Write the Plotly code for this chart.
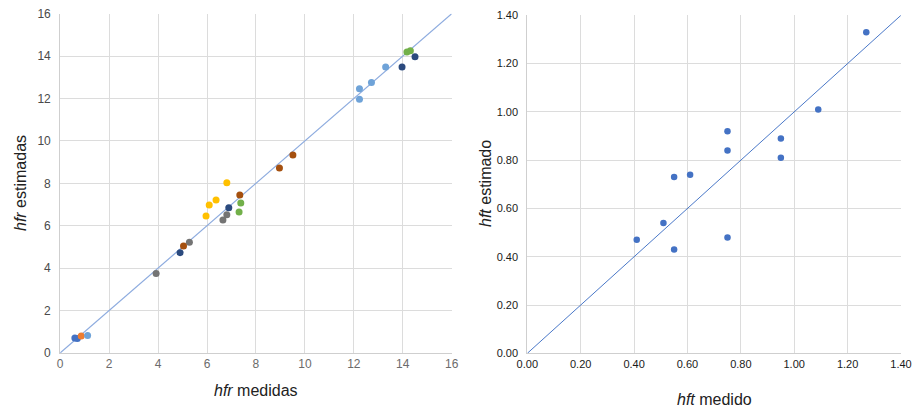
import plotly.graph_objects as go

# Left panel: hfr measured vs estimated, one colour per group
blue_x = [0.60, 0.70]
blue_y = [0.70, 0.68]
orange_x = [0.86]
orange_y = [0.80]
lightblue_x = [1.12, 12.23, 12.23, 12.72, 13.30]
lightblue_y = [0.82, 12.46, 11.96, 12.76, 13.49]
yellow_x = [5.96, 6.09, 6.37, 6.81]
yellow_y = [6.46, 6.98, 7.21, 8.03]
gray_x = [3.92, 5.28, 6.65, 6.81]
gray_y = [3.75, 5.22, 6.27, 6.52]
navy_x = [4.90, 6.89, 13.97, 14.50]
navy_y = [4.73, 6.85, 13.49, 13.97]
brown_x = [5.04, 7.34, 8.96, 9.51]
brown_y = [5.04, 7.45, 8.72, 9.33]
green_x = [7.31, 7.38, 14.17, 14.31]
green_y = [6.65, 7.07, 14.19, 14.25]

# Right panel: hft measured vs estimated
hft_medido = [0.41, 0.51, 0.55, 0.55, 0.61, 0.75, 0.75, 0.75, 0.95, 0.95, 1.09, 1.27]
hft_estimado = [0.47, 0.54, 0.43, 0.73, 0.74, 0.48, 0.84, 0.92, 0.81, 0.89, 1.01, 1.33]

left_ticks = [0, 2, 4, 6, 8, 10, 12, 14, 16]
right_ticks = [0.0, 0.2, 0.4, 0.6, 0.8, 1.0, 1.2, 1.4]

FONT = "Arial, Liberation Sans, sans-serif"
GRID = "#dcdcdc"

fig = go.Figure()

# identity lines
fig.add_trace(go.Scatter(x=[0, 16], y=[0, 16], mode="lines",
                         line=dict(color="#8eacdf", width=1.2),
                         xaxis="x", yaxis="y", hoverinfo="skip"))
fig.add_trace(go.Scatter(x=[0, 1.4], y=[0, 1.4], mode="lines",
                         line=dict(color="#4a78c8", width=1),
                         xaxis="x2", yaxis="y2", hoverinfo="skip"))

groups = [
    (blue_x, blue_y, "#4472c4"),
    (orange_x, orange_y, "#ed7d31"),
    (lightblue_x, lightblue_y, "#6fa3d8"),
    (yellow_x, yellow_y, "#ffc000"),
    (gray_x, gray_y, "#747474"),
    (navy_x, navy_y, "#2b4a7e"),
    (brown_x, brown_y, "#a5500f"),
    (green_x, green_y, "#72b04a"),
]
for gx, gy, col in groups:
    fig.add_trace(go.Scatter(x=gx, y=gy, mode="markers",
                             marker=dict(color=col, size=7),
                             xaxis="x", yaxis="y"))

fig.add_trace(go.Scatter(x=hft_medido, y=hft_estimado, mode="markers",
                         marker=dict(color="#4472c4", size=6.5),
                         xaxis="x2", yaxis="y2"))

axis_common = dict(showgrid=True, gridcolor=GRID, gridwidth=1, zeroline=False,
                   showline=True, linecolor="#cfcfcf", linewidth=1, ticks="",
                   fixedrange=True, automargin=False)

fig.update_layout(
    width=912, height=408,
    margin=dict(l=0, r=0, t=0, b=0, autoexpand=False),
    paper_bgcolor="white", plot_bgcolor="white",
    showlegend=False,
    font=dict(family=FONT),
    xaxis=dict(domain=[0.066, 0.4953], range=[0, 16], tickvals=left_ticks,
               ticktext=[str(v) for v in left_ticks],
               tickfont=dict(size=12, color="#6b6b6b"), anchor="y", **axis_common),
    yaxis=dict(domain=[0.135, 0.9664], range=[0, 16], tickvals=left_ticks,
               ticktext=[str(v) for v in left_ticks],
               tickfont=dict(size=12, color="#4a4a4a"), anchor="x", ticklabelstandoff=6,
               **axis_common),
    xaxis2=dict(domain=[0.5782, 0.9879], range=[0, 1.4], tickvals=right_ticks,
                ticktext=[f"{v:.2f}" for v in right_ticks],
                tickfont=dict(size=11, color="#1a1a1a"), anchor="y2", **axis_common),
    yaxis2=dict(domain=[0.134, 0.9625], range=[0, 1.4], tickvals=right_ticks,
                ticktext=[f"{v:.2f}" for v in right_ticks],
                tickfont=dict(size=11, color="#1a1a1a"), anchor="x2", ticklabelstandoff=6,
                **axis_common),
)

title_font = dict(family=FONT, size=16, color="#222222")
fig.add_annotation(text="<i>hfr</i> medidas", x=256 / 912, y=(408 - 390) / 408,
                   xref="paper", yref="paper", showarrow=False, font=title_font,
                   xanchor="center", yanchor="middle")
fig.add_annotation(text="<i>hfr</i> estimadas", x=21 / 912, y=(408 - 183) / 408,
                   xref="paper", yref="paper", showarrow=False, font=title_font,
                   textangle=-90, xanchor="center", yanchor="middle")
fig.add_annotation(text="<i>hft</i> medido", x=714 / 912, y=(408 - 399) / 408,
                   xref="paper", yref="paper", showarrow=False, font=title_font,
                   xanchor="center", yanchor="middle")
fig.add_annotation(text="<i>hft</i> estimado", x=486 / 912, y=(408 - 184) / 408,
                   xref="paper", yref="paper", showarrow=False, font=title_font,
                   textangle=-90, xanchor="center", yanchor="middle")

fig.write_html("out.html")
